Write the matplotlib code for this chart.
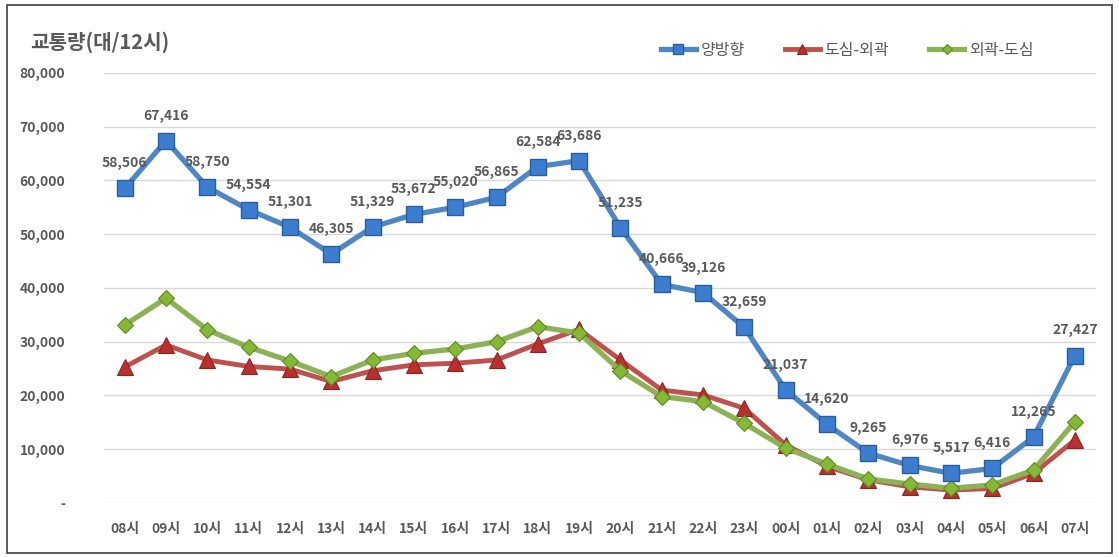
import numpy as np
import matplotlib.pyplot as plt
from matplotlib.patches import Rectangle
from matplotlib.ticker import FuncFormatter

plt.rcParams['font.family'] = ['Noto Sans CJK KR', 'DejaVu Sans']

hours = ['08시', '09시', '10시', '11시', '12시', '13시', '14시', '15시', '16시', '17시', '18시', '19시',
         '20시', '21시', '22시', '23시', '00시', '01시', '02시', '03시', '04시', '05시', '06시', '07시']

both = [58506, 67416, 58750, 54554, 51301, 46305, 51329, 53672, 55020, 56865, 62584, 63686,
        51235, 40666, 39126, 32659, 21037, 14620, 9265, 6976, 5517, 6416, 12265, 27427]

out_bound = [25300, 29400, 26600, 25400, 24900, 22600, 24600, 25700, 26000, 26600, 29600, 32300,
             26600, 21000, 20100, 17600, 10800, 6800, 4300, 3000, 2400, 2700, 5500, 11700]

in_bound = [33100, 38100, 32200, 29000, 26400, 23500, 26600, 27850, 28650, 30000, 32800, 31600,
            24600, 19800, 18850, 14800, 10200, 7250, 4460, 3530, 2730, 3350, 6140, 15100]

TXT = '#595959'

fig = plt.figure(figsize=(11.19, 5.57), dpi=100)
ax = fig.add_axes([0.093, 0.097, 0.886, 0.772])

x = np.arange(len(hours))
ax.plot(x, both, color='#4F86C6', linewidth=3.8, marker='s', markersize=12,
        markerfacecolor='#3C7DD0', markeredgecolor='#2A5C9E', markeredgewidth=1, label='양방향', zorder=5)
ax.plot(x, out_bound, color='#C0504D', linewidth=3.5, marker='^', markersize=11,
        markerfacecolor='#B8312E', markeredgecolor='#8E2421', markeredgewidth=0.8, label='도심-외곽', zorder=3)
ax.plot(x, in_bound, color='#8DB255', linewidth=3.8, marker='D', markersize=8,
        markerfacecolor='#86B837', markeredgecolor='#5E8A22', markeredgewidth=0.8, label='외곽-도심', zorder=4)

for i, v in enumerate(both):
    ax.annotate(f'{v:,}', (x[i], v), xytext=(0, 13), textcoords='offset points',
                ha='center', va='bottom', fontsize=10, fontweight='bold', color=TXT, zorder=6)

ax.set_xlim(-0.5, len(hours) - 0.5)
ax.set_ylim(0, 80000)
ax.set_yticks(np.arange(0, 80001, 10000))
ax.yaxis.set_major_formatter(FuncFormatter(lambda v, p: '-' if v == 0 else f'{int(v):,}'))
ax.set_xticks(x)
ax.set_xticklabels(hours)
ax.tick_params(axis='both', length=0, labelsize=10, labelcolor=TXT)
ax.tick_params(axis='x', pad=14)
ax.tick_params(axis='y', pad=28)
for lab in ax.get_xticklabels() + ax.get_yticklabels():
    lab.set_fontweight('bold')
for lab in ax.get_yticklabels():
    lab.set_horizontalalignment('right')

ax.grid(axis='y', color='#D9D9D9', linewidth=1)
ax.set_axisbelow(True)
for s in ax.spines.values():
    s.set_visible(False)

fig.text(0.027, 0.925, '교통량(대/12시)', fontsize=14.5, fontweight='bold', color=TXT, va='center')

fig.legend(loc='center', bbox_to_anchor=(0.757, 0.91), ncol=3, frameon=False,
           fontsize=11.5, handlelength=2.2, columnspacing=2.5, handletextpad=0.3,
           labelcolor=TXT, markerscale=0.6)

fig.patches.append(Rectangle((0.006, 0.008), 0.988, 0.983, transform=fig.transFigure,
                             fill=False, edgecolor='#404040', linewidth=1.2))

fig.savefig('out.png', dpi=100)
